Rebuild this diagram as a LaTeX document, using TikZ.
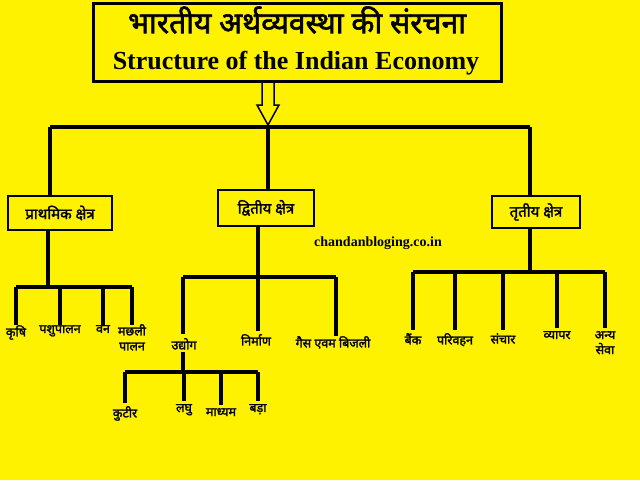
\documentclass[tikz,border=0pt]{standalone}
\usepackage{fontspec}
\newfontfamily\hin[Script=Devanagari,FakeBold=2]{Noto Sans}
\newfontfamily\ser{Liberation Serif}
\begin{document}
\begin{tikzpicture}[x=1pt,y=-1pt,
  ln/.style={line width=3.5pt},
  bx/.style={draw,line width=2pt,fill=yellow,inner sep=0pt},
  lab/.style={font=\hin\fontsize{12.5}{15}\selectfont,align=center,inner sep=0pt}]
\fill[yellow] (0,0) rectangle (640,480);
\useasboundingbox (0,0) rectangle (640,480);
\node[draw,line width=3pt,minimum width=408,minimum height=78,fill=yellow] (title) at (297,42) {};
\node[font=\hin\fontsize{30}{32}\selectfont,inner sep=0pt] (t1) at (297,20) {भारतीय अर्थव्यवस्था की संरचना};
\node[font=\ser\bfseries\fontsize{26}{28}\selectfont,inner sep=0pt] (t2) at (296,63) {Structure of the Indian Economy};
\draw[line width=1.5pt] (262,83) -- (262,105) -- (257,105) -- (268,125) -- (279,105) -- (274,105) -- (274,83);
\draw[ln] (50,127) -- (530,127);
\node[bx,minimum width=104,minimum height=34] (p) at (60,213) {};
\node[lab,font=\hin\fontsize{15}{16}\selectfont] at (p) {प्राथमिक क्षेत्र};
\node[bx,minimum width=96,minimum height=36] (s) at (266,208) {};
\node[lab,font=\hin\fontsize{15}{16}\selectfont] at (s) {द्वितीय क्षेत्र};
\node[bx,minimum width=88,minimum height=32] (t) at (536,212) {};
\node[lab,font=\hin\fontsize{15}{16}\selectfont] at (t) {तृतीय क्षेत्र};
\draw[ln] (50,127) -- (50,196);
\draw[ln] (268,127) -- (268,190);
\draw[ln] (530,127) -- (530,196);
\node[font=\ser\bfseries\fontsize{14}{16}\selectfont] (w) at (378,243) {chandanbloging.co.in};
% primary
\draw[ln] (48,230) -- (48,287);
\draw[ln] (16,287) -- (132,287);
\foreach \x/\n/\t in {16/a/कृषि,60/b/पशुपालन,103/c/वन}{
  \node[lab,anchor=north] (\n) at (\x,325) {\t};
  \draw[ln] (\x,287) -- (\x,325);}
\node[lab,anchor=north] (d) at (132,324) {मछली\\पालन};
\draw[ln] (132,287) -- (132,325);
% secondary
\draw[ln] (258,226) -- (258,277);
\draw[ln] (183,277) -- (336,277);
\node[lab,anchor=north] (u) at (184,338) {उद्योग};
\node[lab,anchor=north] (n) at (256,334) {निर्माण};
\node[lab,anchor=north] (g) at (333,336) {गैस एवम बिजली};
\draw[ln] (183,277) -- (183,334);
\draw[ln] (258,277) -- (258,331);
\draw[ln] (336,277) -- (336,336);
\draw[ln] (183,352) -- (183,372);
\draw[ln] (125,372) -- (258,372);
\foreach \x/\y/\n/\t in {125/406/k1/कुटीर,184/404/k2/लघु,221/408/k3/माध्यम,258/404/k4/बड़ा}{
  \node[lab,anchor=north] (\n) at (\x,\y) {\t};
  \draw[ln] (\x,372) -- (\x,\y-3);}
% tertiary
\draw[ln] (530,228) -- (530,272);
\draw[ln] (413,272) -- (605,272);
\foreach \x/\y/\n/\t in {413/333/e1/बैंक,455/333/e2/परिवहन,503/333/e3/संचार,557/331/e4/व्यापर}{
  \node[lab,anchor=north] (\n) at (\x,\y) {\t};
  \draw[ln] (\x,272) -- (\x,\y-3);}
\node[lab,anchor=north] (e5) at (605,331) {अन्य\\सेवा};
\draw[ln] (605,272) -- (605,328);
\end{tikzpicture}
\end{document}
